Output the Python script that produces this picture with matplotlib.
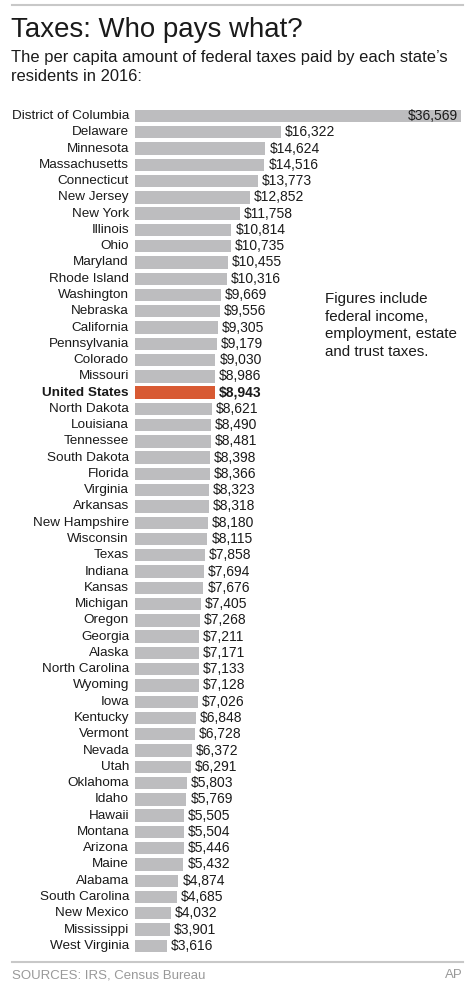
import matplotlib
matplotlib.use('Agg')
import matplotlib.pyplot as plt
from matplotlib.lines import Line2D

plt.rcParams['font.family'] = ['Liberation Sans', 'DejaVu Sans']

states = ['District of Columbia', 'Delaware', 'Minnesota', 'Massachusetts', 'Connecticut',
          'New Jersey', 'New York', 'Illinois', 'Ohio', 'Maryland', 'Rhode Island',
          'Washington', 'Nebraska', 'California', 'Pennsylvania', 'Colorado', 'Missouri',
          'United States', 'North Dakota', 'Louisiana', 'Tennessee', 'South Dakota',
          'Florida', 'Virginia', 'Arkansas', 'New Hampshire', 'Wisconsin', 'Texas',
          'Indiana', 'Kansas', 'Michigan', 'Oregon', 'Georgia', 'Alaska',
          'North Carolina', 'Wyoming', 'Iowa', 'Kentucky', 'Vermont', 'Nevada', 'Utah',
          'Oklahoma', 'Idaho', 'Hawaii', 'Montana', 'Arizona', 'Maine', 'Alabama',
          'South Carolina', 'New Mexico', 'Mississippi', 'West Virginia']
per_capita = [36569, 16322, 14624, 14516, 13773, 12852, 11758, 10814, 10735, 10455, 10316,
              9669, 9556, 9305, 9179, 9030, 8986, 8943, 8621, 8490, 8481, 8398, 8366,
              8323, 8318, 8180, 8115, 7858, 7694, 7676, 7405, 7268, 7211, 7171, 7133,
              7128, 7026, 6848, 6728, 6372, 6291, 5803, 5769, 5505, 5504, 5446, 5432,
              4874, 4685, 4032, 3901, 3616]
highlight = 'United States'

W, H = 474, 990
fig = plt.figure(figsize=(W / 100, H / 100), dpi=100)


def fx(px):
    return px / W


def fy(py):
    return 1 - py / H


# rules
fig.add_artist(Line2D([fx(12), fx(463)], [fy(5), fy(5)], color='#c8c8c8', lw=1.5))
fig.add_artist(Line2D([fx(12), fx(463)], [fy(962), fy(962)], color='#c8c8c8', lw=1.5))

fig.text(fx(11), fy(37), 'Taxes: Who pays what?', fontsize=19.9, color='#1a1a1a',
         va='baseline')
fig.text(fx(11), fy(62), "The per capita amount of federal taxes paid by each state\u2019s",
         fontsize=11.9, color='#1a1a1a', va='baseline')
fig.text(fx(11), fy(81), 'residents in 2016:', fontsize=11.9, color='#1a1a1a',
         va='baseline')

fig.text(fx(325), fy(356), 'Figures include\nfederal income,\nemployment, estate\nand trust taxes.',
         fontsize=10.9, color='#1a1a1a', va='baseline', linespacing=1.32)

fig.text(fx(12), fy(978), 'SOURCES: IRS, Census Bureau', fontsize=9.5, color='#999999',
         va='baseline')
fig.text(fx(463), fy(978), 'AP', fontsize=9.5, color='#999999', va='baseline', ha='right')

# bar area
n = len(states)
pitch = 16.27
top_px = 116 - pitch / 2
bot_px = top_px + pitch * n
ax = fig.add_axes([fx(135), fy(bot_px), fx(461) - fx(135), (bot_px - top_px) / H])
ax.set_xlim(0, max(per_capita))
ax.set_ylim(n - 0.5, -0.5)
ax.axis('off')

colors = ['#d85a33' if s == highlight else '#bdbdbf' for s in states]
ax.barh(range(n), per_capita, height=0.76, color=colors)

px_unit = max(per_capita) / (461 - 135)
for i, (s, v) in enumerate(zip(states, per_capita)):
    bold = 'bold' if s == highlight else 'normal'
    ax.text(-6 * px_unit, i, s, ha='right', va='center', fontsize=9.7,
            color='#1a1a1a', fontweight=bold)
    label = f'${v:,}'
    if v == max(per_capita):
        ax.text(v - 3 * px_unit, i, label, ha='right', va='center', fontsize=10,
                color='#1a1a1a')
    else:
        ax.text(v + 4 * px_unit, i, label, ha='left', va='center', fontsize=10,
                color='#1a1a1a', fontweight=bold)

fig.savefig('out.png', dpi=100)
